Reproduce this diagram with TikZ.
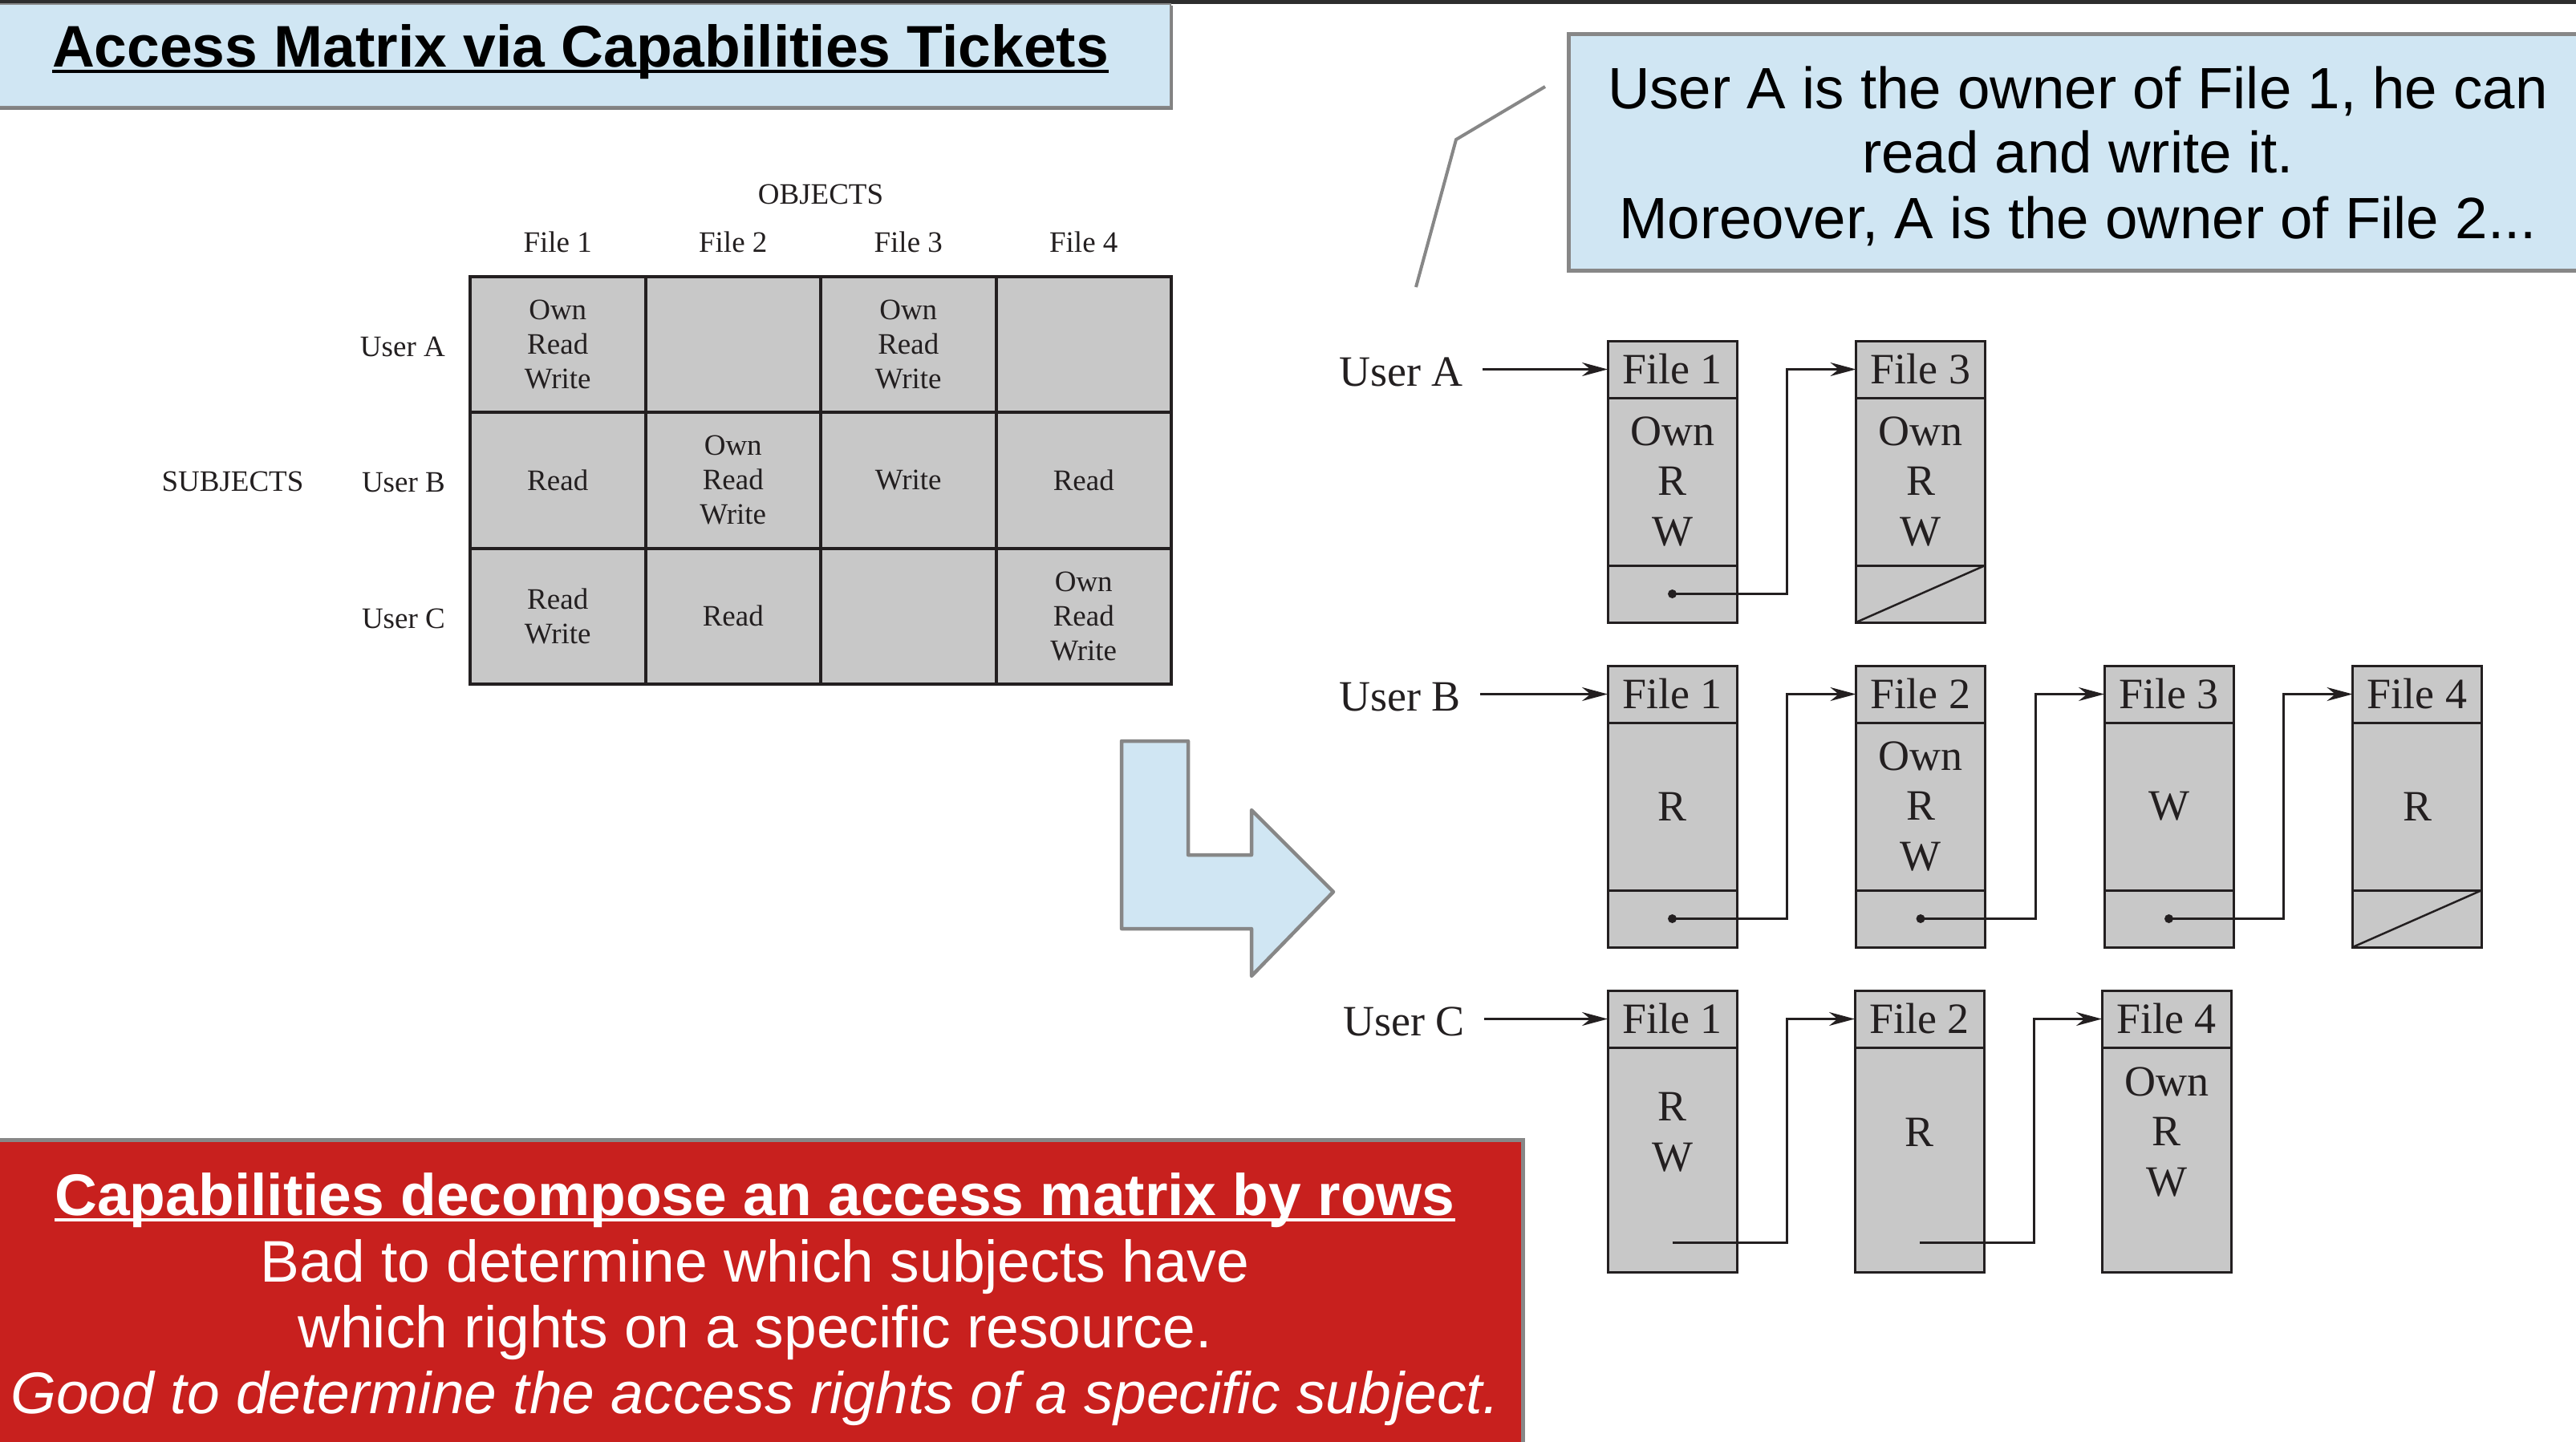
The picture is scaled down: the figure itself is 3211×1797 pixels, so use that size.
\documentclass[tikz,border=0pt]{standalone}
\usepackage{fontspec}
\setmainfont{Liberation Serif}
\newfontfamily\slidefont{Liberation Sans}
\usetikzlibrary{arrows.meta}
\definecolor{lblue}{HTML}{D0E6F3}
\definecolor{bordergray}{HTML}{878787}
\definecolor{slidered}{HTML}{C8201E}
\definecolor{cellgray}{HTML}{C8C8C8}
\definecolor{ink}{HTML}{231F20}
\definecolor{topbar}{HTML}{2E2E2E}
\newsavebox\ulbox
\newcommand\myul[1]{\sbox\ulbox{#1}\rlap{\rule[-0.11em]{\wd\ulbox}{0.06em}}\usebox\ulbox}
\begin{document}
\begin{tikzpicture}[x=1pt,y=-1pt,
  mtx/.style={font=\fontsize{37}{43}\selectfont, text=ink, inner sep=0pt, align=center},
  cell/.style={mtx, draw=ink, fill=cellgray, line width=4pt, minimum width=218.5pt, minimum height=169.5pt},
  captxt/.style={font=\fontsize{54}{62.5}\selectfont, text=ink, inner sep=0pt, align=center},
  hdr/.style={captxt, draw=ink, fill=cellgray, line width=3pt, outer sep=0pt, minimum width=161pt, minimum height=71pt, anchor=north west},
  body/.style={captxt, draw=ink, fill=cellgray, line width=3pt, outer sep=0pt, minimum width=161pt, minimum height=209pt, anchor=north west},
  ptr/.style={body, minimum height=71pt},
  conn/.style={draw=ink, line width=3pt, -{Stealth[length=32pt,width=17pt]}},
  slide/.style={font=\slidefont\fontsize{73.2}{82}\selectfont, inner sep=0pt, anchor=base},
  callout/.style={font=\slidefont\fontsize{72.7}{82}\selectfont, inner sep=0pt, anchor=base},
  slidebf/.style={font=\slidefont\bfseries\fontsize{73.2}{82}\selectfont, inner sep=0pt, anchor=base},
  slideit/.style={font=\slidefont\itshape\fontsize{73.2}{82}\selectfont, inner sep=0pt, anchor=base},
  frame/.style={fill=lblue, draw=bordergray},
]
\useasboundingbox (0,0) rectangle (3211,1797);
\clip (0,0) rectangle (3211,1797);
\fill[white] (0,0) rectangle (3211,1797);

% top bar and title
\fill[topbar] (0,0) rectangle (3211,4.5);
\fill[black!50] (-10,7) rectangle (1462,136.5);
\draw[frame, line width=2pt] (-10,4.5) rectangle (1459,133);
\node[slidebf] (title) at (723.5,83) {\myul{Access Matrix via Capabilities Tickets}};

% access matrix
\node[cell] (mA1) at (695.25,429.25) {Own\\Read\\Write};
\node[cell] (mA2) at (913.75,429.25) {};
\node[cell] (mA3) at (1132.25,429.25) {Own\\Read\\Write};
\node[cell] (mA4) at (1350.75,429.25) {};
\node[cell] (mB1) at (695.25,598.75) {Read};
\node[cell] (mB2) at (913.75,598.75) {Own\\Read\\Write};
\node[cell] (mB3) at (1132.25,598.75) {Write};
\node[cell] (mB4) at (1350.75,598.75) {Read};
\node[cell] (mC1) at (695.25,768.25) {Read\\Write};
\node[cell] (mC2) at (913.75,768.25) {Read};
\node[cell] (mC3) at (1132.25,768.25) {};
\node[cell] (mC4) at (1350.75,768.25) {Own\\Read\\Write};
\node[mtx, anchor=base] (objects) at (1023,254) {OBJECTS};
\node[mtx, anchor=base] (mf1) at (695.25,314) {File 1};
\node[mtx, anchor=base] (mf2) at (913.75,314) {File 2};
\node[mtx, anchor=base] (mf3) at (1132.25,314) {File 3};
\node[mtx, anchor=base] (mf4) at (1350.75,314) {File 4};
\node[mtx, anchor=base east] (mrA) at (555,444) {User A};
\node[mtx, anchor=base east] (mrB) at (555,613) {User B};
\node[mtx, anchor=base east] (mrC) at (555,783) {User C};
\node[mtx, anchor=base] (subjects) at (290,612) {SUBJECTS};

% big L arrow
\draw[frame, line width=4.5pt, line join=round]
  (1398,924) -- (1481,924) -- (1481,1066) -- (1560,1066) -- (1560,1010)
  -- (1662,1112) -- (1560,1217) -- (1560,1158) -- (1398,1158) -- cycle;

% callout
\draw[frame, line width=5pt] (1955,42) rectangle (3245,337);
\node[callout] (co1) at (2590,135) {User A is the owner of File 1, he can};
\node[callout] (co2) at (2590,215) {read and write it.};
\node[callout] (co3) at (2590,297) {Moreover, A is the owner of File 2...};
\coordinate (cl1) at (1926,108);
\coordinate (cl2) at (1815,174);
\coordinate (cl3) at (1765,358);
\draw[bordergray, line width=4pt] (cl1) -- (cl2) -- (cl3);

% capability list: User A
\node[captxt, anchor=base east] (ua) at (1824,481) {User A};
\node[hdr] (a1) at (2004,425) {File 1};
\node[body] (a1b) at (a1.south west) {Own\\R\\W};
\node[ptr] (a1p) at (a1b.south west) {};
\node[hdr] (a2) at (2313.5,425) {File 3};
\node[body] (a2b) at (a2.south west) {Own\\R\\W};
\node[ptr] (a2p) at (a2b.south west) {};
\draw[ink, line width=2.5pt] (a2p.south west) -- (a2p.north east);
\fill[ink] (a1p.center) circle (5.5pt);
\draw[conn, shorten <=24pt] (a1.west -| ua.east) -- (a1.west);
\draw[conn] (a1p.center) -- ++(143,0) |- (a2.west);

% capability list: User B
\node[captxt, anchor=base east] (ub) at (1821,886) {User B};
\node[hdr] (b1) at (2004,830) {File 1};
\node[body] (b1b) at (b1.south west) {R};
\node[ptr] (b1p) at (b1b.south west) {};
\node[hdr] (b2) at (2313.5,830) {File 2};
\node[body] (b2b) at (b2.south west) {Own\\R\\W};
\node[ptr] (b2p) at (b2b.south west) {};
\node[hdr] (b3) at (2623,830) {File 3};
\node[body] (b3b) at (b3.south west) {W};
\node[ptr] (b3p) at (b3b.south west) {};
\node[hdr] (b4) at (2932.5,830) {File 4};
\node[body] (b4b) at (b4.south west) {R};
\node[ptr] (b4p) at (b4b.south west) {};
\draw[ink, line width=2.5pt] (b4p.south west) -- (b4p.north east);
\fill[ink] (b1p.center) circle (5.5pt);
\fill[ink] (b2p.center) circle (5.5pt);
\fill[ink] (b3p.center) circle (5.5pt);
\draw[conn, shorten <=24pt] (b1.west -| ub.east) -- (b1.west);
\draw[conn] (b1p.center) -- ++(143,0) |- (b2.west);
\draw[conn] (b2p.center) -- ++(143,0) |- (b3.west);
\draw[conn] (b3p.center) -- ++(143,0) |- (b4.west);

% capability list: User C
\node[captxt, anchor=base east] (uc) at (1826,1291) {User C};
\node[hdr] (c1) at (2004,1235) {File 1};
\node[body, minimum height=280pt] (c1b) at (c1.south west) {};
\node[hdr] (c2) at (2312,1235) {File 2};
\node[body, minimum height=280pt] (c2b) at (c2.south west) {};
\node[hdr] (c3) at (2620,1235) {File 4};
\node[body, minimum height=280pt] (c3b) at (c3.south west) {};
\node[captxt] (c1t) at (2084.5,1411.5) {R\\W};
\node[captxt] (c2t) at (2392.5,1411.5) {R};
\node[captxt] (c3t) at (2700.5,1411.5) {Own\\R\\W};
\coordinate (c1p) at (2084.5,1549);
\coordinate (c2p) at (2392.5,1549);
\draw[conn, shorten <=24pt] (c1.west -| uc.east) -- (c1.west);
\draw[conn] (c1p) -- ++(143,0) |- (c2.west);
\draw[conn] (c2p) -- ++(143,0) |- (c3.west);

% red summary box
\draw[fill=slidered, draw=bordergray, line width=5pt] (-10,1421) rectangle (1898,1830);
\node[slidebf, text=white] (r1) at (941,1515) {\myul{Capabilities decompose an access matrix by rows}};
\node[slide, text=white] (r2) at (941,1598) {Bad to determine which subjects have};
\node[slide, text=white] (r3) at (941,1680) {which rights on a specific resource.};
\node[slideit, text=white] (r4) at (941,1762) {Good to determine the access rights of a specific subject.};
\end{tikzpicture}
\end{document}
